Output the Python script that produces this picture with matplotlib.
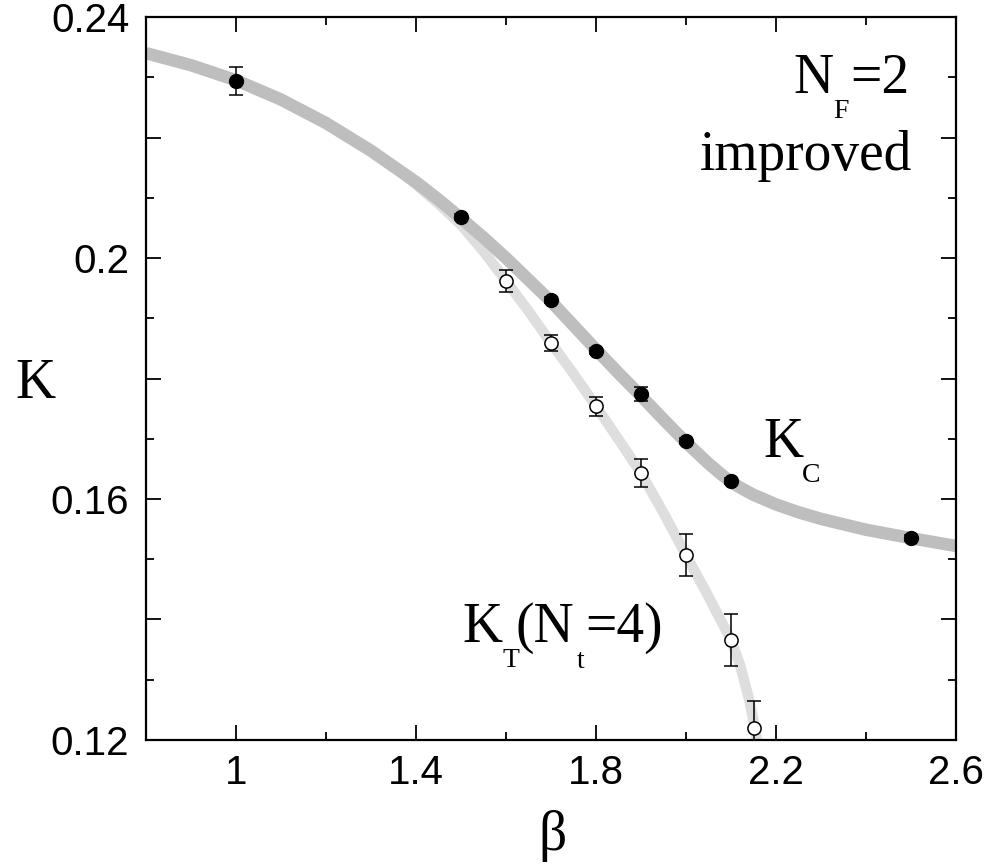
import numpy as np
import matplotlib.pyplot as plt
from matplotlib.ticker import MultipleLocator, FixedLocator

# critical kappa (filled) and thermal kappa for N_t=4 (open)
beta_c = [1.0, 1.5, 1.7, 1.8, 1.9, 2.0, 2.1, 2.5]
kappa_c = [0.2294, 0.2068, 0.1930, 0.1846, 0.1774, 0.1696, 0.1630, 0.1535]
err_c = [0.0023, 0.0005, 0.0005, 0.0005, 0.0012, 0.0005, 0.0005, 0.0005]

beta_t = [1.6, 1.7, 1.8, 1.9, 2.0, 2.1, 2.15]
kappa_t = [0.1962, 0.1859, 0.1754, 0.1643, 0.1507, 0.1366, 0.1220]
err_t = [0.0018, 0.0013, 0.0016, 0.0023, 0.0035, 0.0043, 0.0044]

# guide curves
curve_c_beta = [0.80, 0.90, 1.00, 1.10, 1.20, 1.30, 1.40, 1.45, 1.50, 1.55, 1.60,
                1.65, 1.70, 1.75, 1.80, 1.85, 1.90, 1.95, 2.00, 2.05, 2.075, 2.10,
                2.125, 2.15, 2.20, 2.25, 2.30, 2.40, 2.50, 2.60]
curve_c_kappa = [0.2340, 0.2320, 0.2295, 0.2263, 0.2224, 0.2178, 0.2126, 0.2097,
                 0.2066, 0.2034, 0.2000, 0.1964, 0.1928, 0.1888, 0.1848, 0.1809,
                 0.1771, 0.1732, 0.1694, 0.1659, 0.1643, 0.1628, 0.1617, 0.1607,
                 0.1591, 0.1578, 0.1567, 0.1549, 0.1535, 0.1522]

curve_t_beta = [1.36, 1.40, 1.45, 1.50, 1.55, 1.60, 1.65, 1.70, 1.75, 1.80, 1.85,
                1.90, 1.95, 2.00, 2.05, 2.10, 2.12, 2.14, 2.15, 2.16]
curve_t_kappa = [0.2147, 0.2122, 0.2090, 0.2055, 0.2011, 0.1962, 0.1912, 0.1859,
                 0.1808, 0.1754, 0.1699, 0.1643, 0.1577, 0.1507, 0.1438, 0.1366,
                 0.1325, 0.1268, 0.1232, 0.1190]

x_ticks = [1.0, 1.4, 1.8, 2.2, 2.6]
x_labels = ["1", "1.4", "1.8", "2.2", "2.6"]
y_ticks = [0.12, 0.14, 0.16, 0.18, 0.20, 0.22, 0.24]
y_labels = ["0.12", "", "0.16", "", "0.2", "", "0.24"]

serif = ["Liberation Serif", "DejaVu Serif"]
sans = ["Liberation Sans", "DejaVu Sans"]

fig = plt.figure(figsize=(9.92, 8.65), dpi=100)
ax = fig.add_axes([146 / 992, 125 / 865, 810 / 992, 723 / 865])

ax.plot(curve_t_beta, curve_t_kappa, color="#dedede", lw=7.5,
        solid_capstyle="butt", solid_joinstyle="round", zorder=1)
ax.plot(curve_c_beta, curve_c_kappa, color="#bebebe", lw=9,
        solid_capstyle="butt", solid_joinstyle="round", zorder=2)

ax.errorbar(beta_t, kappa_t, yerr=err_t, fmt="o", ms=9.5, mfc="white", mec="black",
            mew=1.1, ecolor="black", elinewidth=1.1, capsize=5, capthick=1.1, zorder=3)
ax.errorbar(beta_c, kappa_c, yerr=err_c, fmt="o", ms=10, mfc="black", mec="black",
            ecolor="black", elinewidth=1.1, capsize=5, capthick=1.1, zorder=4)

ax.set_xlim(0.8, 2.6)
ax.set_ylim(0.12, 0.24)
ax.xaxis.set_major_locator(FixedLocator(x_ticks))
ax.xaxis.set_minor_locator(MultipleLocator(0.2))
ax.yaxis.set_major_locator(FixedLocator(y_ticks))
ax.yaxis.set_minor_locator(MultipleLocator(0.01))
ax.set_xticklabels(x_labels, family=sans, fontsize=29)
ax.set_yticklabels(y_labels, family=sans, fontsize=29)
ax.tick_params(which="both", direction="in", top=True, right=True, width=1.3)
ax.tick_params(which="major", length=11)
ax.tick_params(which="minor", length=6)
ax.tick_params(axis="x", pad=10)
ax.tick_params(axis="y", pad=12)
for s in ax.spines.values():
    s.set_linewidth(1.6)

fig.text(15 / 992, 1 - 398 / 865, "K", family=serif, fontsize=40, va="baseline", ha="left")
fig.text(553 / 992, 1 - 850 / 865, "β", family=serif, fontsize=40, va="baseline", ha="center")

# annotations
big = dict(family=serif, fontsize=40, va="baseline", ha="left")
small = dict(family=serif, fontsize=20, va="baseline", ha="left")
ax.text(2.238, 0.2274, "N", **big)
ax.text(2.327, 0.2232, "F", **small)
ax.text(2.364, 0.2274, "=2", **big)
ax.text(2.502, 0.2146, "improved", family=serif, fontsize=40, va="baseline", ha="right")

ax.text(2.171, 0.1670, "K", **big)
ax.text(2.258, 0.1628, "C", **small)

ax.text(1.502, 0.1363, "K", **big)
ax.text(1.593, 0.1321, "T", **small)
ax.text(1.620, 0.1363, "(N", **big)
ax.text(1.758, 0.1320, "t", **small)
ax.text(1.776, 0.1363, "=4)", **big)

fig.savefig("out.png", dpi=100)
